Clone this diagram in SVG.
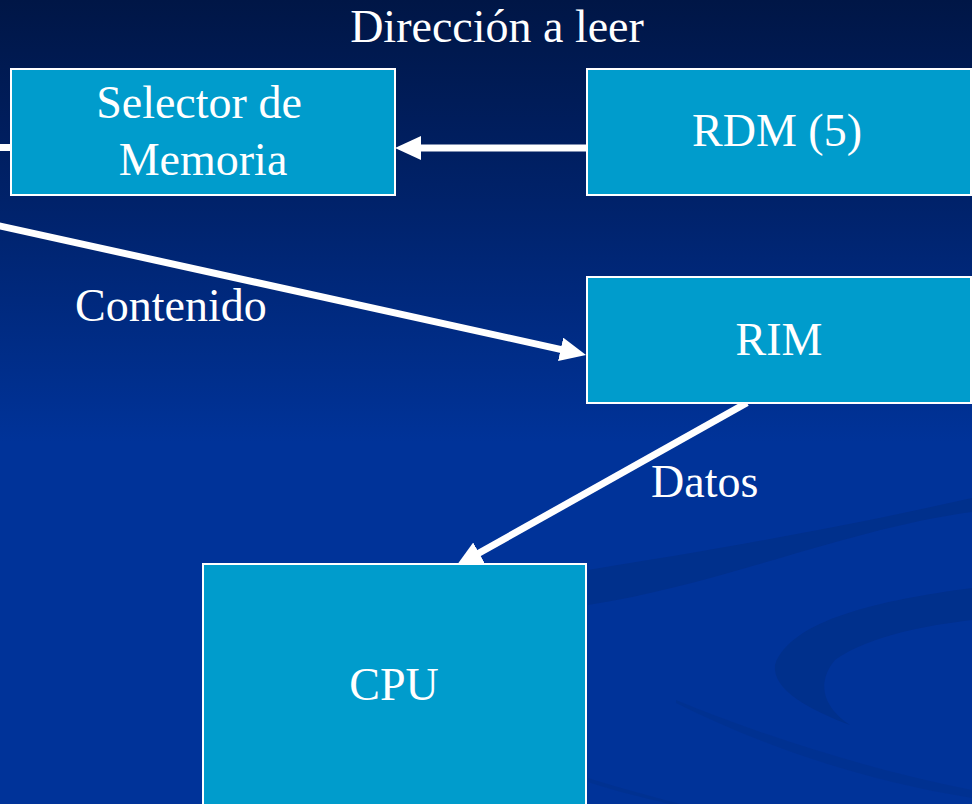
<svg xmlns="http://www.w3.org/2000/svg" width="972" height="804" viewBox="0 0 972 804">
  <style>
    .box { fill: #009ccc; stroke: #ffffff; stroke-width: 2; }
    .lbl { font-family: "Liberation Serif", "Times New Roman", serif; font-size: 46px; fill: #ffffff; }
    .mid { text-anchor: middle; }
    .wire { stroke: #ffffff; stroke-width: 7; fill: none; }
    .swoosh { fill: #00308c; }
  </style>
  <defs>
    <linearGradient id="sky" x1="0" y1="0" x2="0" y2="1">
      <stop offset="0" stop-color="#001646"/>
      <stop offset="0.25" stop-color="#00226a"/>
      <stop offset="0.55" stop-color="#003399"/>
      <stop offset="1" stop-color="#003399"/>
    </linearGradient>
    <marker id="head" viewBox="0 0 26 24" markerWidth="26" markerHeight="24" refX="2" refY="12" markerUnits="userSpaceOnUse" orient="auto">
      <path d="M0,0 L26,12 L0,24 z" fill="#ffffff"/>
    </marker>
  </defs>

  <!-- background -->
  <rect x="0" y="0" width="972" height="804" fill="url(#sky)"/>
  <g id="backdrop">
    <path class="swoosh" d="M588,570 C700,552 830,530 972,498 L972,512 C850,528 720,585 588,605 Z"/>
    <path class="swoosh" d="M972,588 C880,600 790,620 775,665 C772,690 810,710 850,725 C820,705 818,680 835,660 C870,635 930,625 972,620 Z"/>
    <path class="swoosh" d="M676,700 C760,735 870,770 972,790 L972,798 C860,780 760,745 676,703 Z" opacity="0.6"/>
    <path class="swoosh" d="M588,778 C620,788 650,796 680,804 L670,804 C640,797 612,790 588,782 Z" opacity="0.6"/>
  </g>

  <!-- connectors -->
  <g id="connectors">
    <line class="wire" x1="0" y1="147.5" x2="12" y2="147.5"/>
    <line class="wire" x1="588" y1="148" x2="419" y2="148" marker-end="url(#head)"/>
    <line class="wire" x1="-5" y1="224.9" x2="562.6" y2="349.8" marker-end="url(#head)"/>
    <line class="wire" x1="747" y1="402.8" x2="477.3" y2="554" marker-end="url(#head)"/>
  </g>

  <text class="lbl mid" x="497" y="42">Dirección a leer</text>
  <text class="lbl" x="75" y="321">Contenido</text>
  <text class="lbl" x="651" y="497">Datos</text>

  <g id="selector">
    <rect class="box" x="11" y="69" width="384" height="126"/>
    <text class="lbl mid" x="199" y="118">Selector de</text>
    <text class="lbl mid" x="203" y="175">Memoria</text>
  </g>
  <g id="rdm">
    <rect class="box" x="587" y="69" width="384" height="126"/>
    <text class="lbl mid" x="777" y="146">RDM (5)</text>
  </g>
  <g id="rim">
    <rect class="box" x="587" y="277" width="384" height="126"/>
    <text class="lbl mid" x="779" y="355">RIM</text>
  </g>
  <g id="cpu">
    <rect class="box" x="203" y="564" width="383" height="250"/>
    <text class="lbl mid" x="394" y="700">CPU</text>
  </g>
</svg>
